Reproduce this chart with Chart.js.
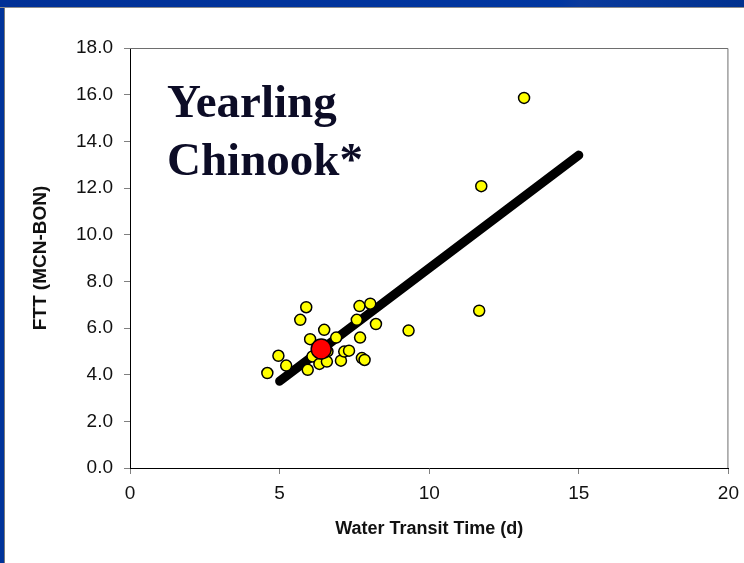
<!DOCTYPE html>
<html>
<head>
<meta charset="utf-8">
<script src="https://cdn.jsdelivr.net/npm/chart.js@4/dist/chart.umd.min.js"></script>
<style>
  html, body { margin: 0; padding: 0; background: #fff; }
  #wrap { position: relative; width: 744px; height: 563px; overflow: hidden; }
  #topbar { position: absolute; left: 0; top: 0; width: 744px; height: 7px;
    background: linear-gradient(100deg, #003096 0%, #0036a0 75%, #0a3a9c 78%, #00318f 100%);
    border-bottom: 1px solid #8c8c8c; }
  #leftbar { position: absolute; left: 0; top: 8px; width: 4px; height: 555px;
    background: #00339a; border-right: 1px solid #7a7a7a; }
  #title { position: absolute; left: 167px; top: 72px; font-family: "Liberation Serif", serif;
    font-weight: bold; font-size: 47px; line-height: 58px; color: #0c0c26; }
  canvas { position: absolute; left: 0; top: 0; }
</style>
</head>
<body>
<div id="wrap">
  <canvas id="chart" width="747" height="563"></canvas>
  <div id="topbar"></div>
  <div id="leftbar"></div>
  <div id="title">Yearling<br>Chinook*</div>
</div>
<script>
// yearly points: water transit time (d) vs FTT MCN-BON
const transitDays = [4.59, 4.96, 5.22, 5.69, 5.89, 5.94, 6.02, 6.10, 6.33, 6.49, 6.58, 6.60,
  6.89, 7.05, 7.16, 7.32, 7.58, 7.67, 7.69, 7.75, 7.84, 8.03, 8.22, 9.31, 11.67, 11.74, 13.17];
const fttDays = [4.07, 4.81, 4.39, 6.35, 6.89, 4.21, 5.52, 4.78, 4.46, 5.92, 4.56, 5.00,
  5.59, 4.60, 4.99, 5.03, 6.35, 6.94, 5.59, 4.71, 4.63, 7.04, 6.17, 5.89, 6.74, 12.08, 15.86];
// current year (red)
const currentX = [6.39];
const currentY = [5.10];
// regression line end points
const trendX = [5.0, 15.0];
const trendY = [3.72, 13.41];

const xTicks = [0, 5, 10, 15, 20];
const yTicks = [0, 2, 4, 6, 8, 10, 12, 14, 16, 18];

const toPts = (xs, ys) => xs.map((x, i) => ({x: x, y: ys[i]}));

const frameLines = {
  id: 'frameLines',
  beforeDatasetsDraw(chart) {
    const {ctx, chartArea: a} = chart;
    ctx.save();
    ctx.strokeStyle = '#6e6e6e';
    ctx.lineWidth = 1;
    ctx.beginPath();
    ctx.moveTo(a.left, a.top + 0.5);
    ctx.lineTo(a.right - 0.5, a.top + 0.5);
    ctx.lineTo(a.right - 0.5, a.bottom);
    ctx.stroke();
    ctx.restore();
  }
};

new Chart(document.getElementById('chart'), {
  type: 'scatter',
  data: {
    datasets: [{
      label: 'current',
      data: toPts(currentX, currentY),
      backgroundColor: '#ff0000',
      borderColor: '#000',
      borderWidth: 1.5,
      pointRadius: 10
    }, {
      label: 'years',
      data: toPts(transitDays, fttDays),
      backgroundColor: '#ffff00',
      borderColor: '#000',
      borderWidth: 1.5,
      pointRadius: 5.5
    }, {
      type: 'line',
      label: 'trend',
      data: toPts(trendX, trendY),
      borderColor: '#000',
      borderWidth: 9,
      borderCapStyle: 'round',
      pointRadius: 0,
      fill: false
    }]
  },
  options: {
    responsive: false,
    animation: false,
    layout: { padding: { left: 0, right: 13, top: 48, bottom: 0 } },
    plugins: { legend: { display: false }, tooltip: { enabled: false } },
    scales: {
      x: {
        type: 'linear', min: 0, max: 20,
        afterBuildTicks: s => { s.ticks = xTicks.map(v => ({value: v})); },
        afterFit: s => { s.height = 95; },
        grid: { drawOnChartArea: false, tickLength: 6, color: '#808080' },
        border: { color: '#000', width: 1 },
        ticks: { color: '#111', padding: 8, font: { family: 'Liberation Sans', size: 19 } },
        title: { display: true, text: 'Water Transit Time (d)', color: '#111',
          padding: { top: 0, bottom: 23 },
          font: { family: 'Liberation Sans', size: 18, weight: 'bold' } }
      },
      y: {
        type: 'linear', min: 0, max: 18,
        afterBuildTicks: s => { s.ticks = yTicks.map(v => ({value: v})); },
        afterFit: s => { s.width = 130; },
        grid: { drawOnChartArea: false, tickLength: 6, color: '#808080' },
        border: { color: '#000', width: 1 },
        ticks: { color: '#111', padding: 11, callback: v => v.toFixed(1),
          font: { family: 'Liberation Sans', size: 19 } },
        title: { display: true, text: 'FTT (MCN-BON)', color: '#111',
          padding: { top: 29, bottom: 0 },
          font: { family: 'Liberation Sans', size: 19, weight: 'bold' } }
      }
    }
  },
  plugins: [frameLines]
});
</script>
</body>
</html>
